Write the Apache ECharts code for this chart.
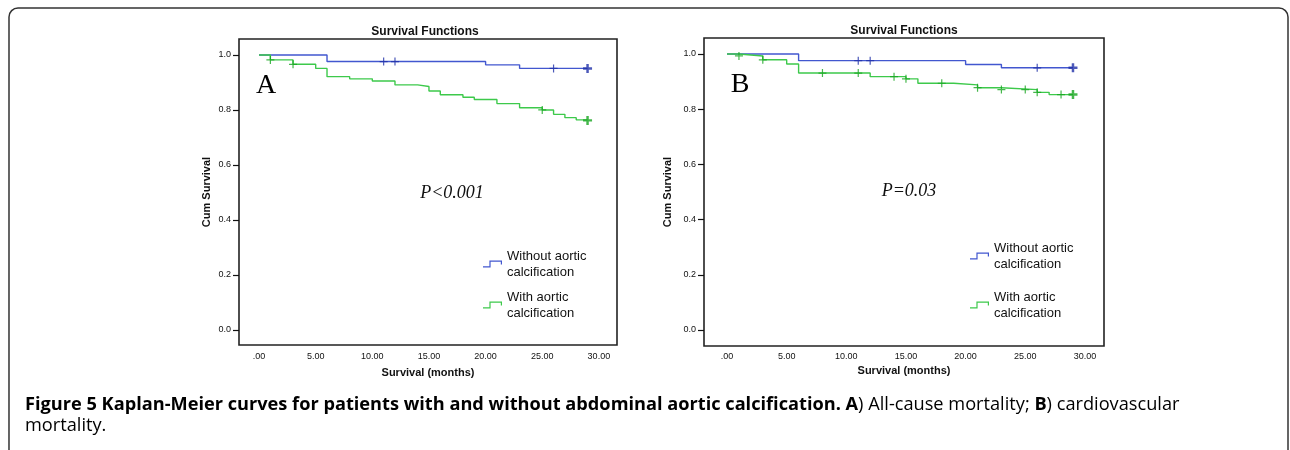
<!DOCTYPE html>
<html>
<head>
<meta charset="utf-8">
<script src="https://cdn.jsdelivr.net/npm/echarts@6/dist/echarts.min.js"></script>
<style>
html, body { margin: 0; padding: 0; background: #fff; }
#main { width: 1290px; height: 450px; }
</style>
</head>
<body>
<div id="main"></div>
<script>
// values: time in months, cumulative survival
var monthTicks = [0, 5, 10, 15, 20, 25, 30];
var survTicks = [0, 0.2, 0.4, 0.6, 0.8, 1.0];
var groupNames = ['Without aortic calcification', 'With aortic calcification'];

// panel A - all-cause mortality
var aNoCalcT = [0, 6, 20, 23, 29];
var aNoCalcS = [1.0, 0.976, 0.964, 0.951, 0.951];
var aNoCalcCens = [11, 12, 26, 29];
var aCalcT = [0, 1, 3, 5, 6, 8, 10, 12, 14, 15, 16, 18, 19, 21, 23, 25, 26, 27, 28, 29];
var aCalcS = [1.0, 0.982, 0.966, 0.951, 0.921, 0.913, 0.905, 0.891, 0.885, 0.869,
              0.855, 0.846, 0.838, 0.823, 0.808, 0.8, 0.784, 0.772, 0.764, 0.762];
var aCalcCens = [1, 3, 25, 29];

// panel B - cardiovascular mortality
var bNoCalcT = [0, 6, 20, 23, 29];
var bNoCalcS = [1.0, 0.976, 0.962, 0.95, 0.95];
var bNoCalcCens = [11, 12, 26, 29];
var bCalcT = [0, 1, 3, 5, 6, 12, 15, 16, 19, 21, 23, 26, 27, 29];
var bCalcS = [1.0, 0.993, 0.979, 0.964, 0.931, 0.918, 0.91, 0.894, 0.888, 0.878, 0.871, 0.861, 0.853, 0.853];
var bCalcCens = [1, 3, 8, 11, 14, 15, 18, 21, 23, 25, 26, 28, 29];

var blue = '#4257cf', blueDark = '#1f2fa8';
var green = '#3dc94b', greenDark = '#17a51f';
var plus = 'path://M3.4,0H4.6V3.4H8V4.6H4.6V8H3.4V4.6H0V3.4H3.4Z';
var plusBold = 'path://M2.9,0H5.1V2.9H8V5.1H5.1V8H2.9V5.1H0V2.9H2.9Z';
var stepIcon = 'path://M0,5.8H6.4V0H19V4H17.8V1.2H7.6V7H0Z';

function steps(t, s) {
    return t.map(function (v, i) { return [v, s[i]]; });
}
// survival level at a censoring time (value of the step curve)
function marks(t, s, cens) {
    return cens.map(function (c) {
        var k = 0;
        for (var i = 0; i < t.length; i++) { if (t[i] <= c) k = i; }
        return [c, s[k]];
    });
}

var font = 'Liberation Sans, Arial, sans-serif';

function xAx(idx, min, max, gap, margin) {
    return {
        type: 'value', gridIndex: idx, min: min, max: max,
        name: 'Survival (months)', nameLocation: 'middle', nameGap: gap,
        nameTextStyle: { fontFamily: font, fontWeight: 'bold', fontSize: 11, color: '#111' },
        axisLine: { show: false, onZero: false },
        axisTick: { show: false },
        splitLine: { show: false },
        axisLabel: {
            customValues: monthTicks, margin: margin,
            fontFamily: font, fontSize: 9, color: '#111',
            formatter: function (v) { return v === 0 ? '.00' : v.toFixed(2); }
        }
    };
}
function yAx(idx, min, max, gap) {
    return {
        type: 'value', gridIndex: idx, min: min, max: max,
        name: 'Cum Survival', nameLocation: 'middle', nameGap: gap,
        nameTextStyle: { fontFamily: font, fontWeight: 'bold', fontSize: 11, color: '#111' },
        axisLine: { show: false, onZero: false },
        axisTick: { show: true, customValues: survTicks, length: 6, lineStyle: { color: '#111', width: 1.2 } },
        splitLine: { show: false },
        axisLabel: {
            customValues: survTicks, margin: 8,
            fontFamily: font, fontSize: 9, color: '#111',
            formatter: function (v) { return v.toFixed(1); }
        }
    };
}
function lineSeries(name, idx, t, s, color) {
    return {
        name: name, type: 'line', xAxisIndex: idx, yAxisIndex: idx,
        step: 'end', showSymbol: false, silent: true,
        lineStyle: { color: color, width: 1.4 }, itemStyle: { color: color },
        data: steps(t, s)
    };
}
function censSeries(idx, t, s, cens, color) {
    var last = t[t.length - 1];
    return {
        type: 'scatter', xAxisIndex: idx, yAxisIndex: idx, silent: true, z: 3,
        symbol: function (v) { return v[0] === last ? plusBold : plus; },
        symbolSize: function (v) { return v[0] === last ? 9 : 8; },
        itemStyle: { color: color },
        data: marks(t, s, cens)
    };
}
function legendFor(left, top, gap) {
    return {
        left: left, top: top, orient: 'vertical', itemGap: gap, padding: 0,
        itemWidth: 19, itemHeight: 7, icon: stepIcon,
        data: groupNames, selectedMode: false,
        formatter: function (n) { return n.replace(' calc', '\ncalc'); },
        textStyle: { fontFamily: font, fontSize: 13, color: '#111', lineHeight: 16 }
    };
}

var capRich = {
    b: { fontFamily: 'Open Sans', fontWeight: 'bold', fontSize: 18.2, color: '#231f20', lineHeight: 21 },
    n: { fontFamily: 'Open Sans', fontSize: 18.2, color: '#444', lineHeight: 21 }
};

var myChart = echarts.init(document.getElementById('main'));
var option = {
    backgroundColor: '#fff',
    animation: false,
    title: [
        { text: 'Survival Functions', left: 420, top: 21, textAlign: 'center',
          textStyle: { fontFamily: font, fontWeight: 'bold', fontSize: 12, color: '#111' } },
        { text: 'Survival Functions', left: 899, top: 20, textAlign: 'center',
          textStyle: { fontFamily: font, fontWeight: 'bold', fontSize: 12, color: '#111' } }
    ],
    grid: [
        { left: 239, top: 39, width: 378, height: 306, show: true, borderColor: '#222', borderWidth: 1.6 },
        { left: 704, top: 38, width: 400, height: 308, show: true, borderColor: '#222', borderWidth: 1.6 }
    ],
    xAxis: [xAx(0, -1.77, 31.6, 22, 7), xAx(1, -1.93, 31.6, 19, 6)],
    yAxis: [yAx(0, -0.055, 1.058, 27), yAx(1, -0.058, 1.058, 31)],
    legend: [legendFor(483, 248, 9), legendFor(970, 240, 17)],
    series: [
        lineSeries(groupNames[0], 0, aNoCalcT, aNoCalcS, blue),
        lineSeries(groupNames[1], 0, aCalcT, aCalcS, green),
        censSeries(0, aNoCalcT, aNoCalcS, aNoCalcCens, blueDark),
        censSeries(0, aCalcT, aCalcS, aCalcCens, greenDark),
        lineSeries(groupNames[0], 1, bNoCalcT, bNoCalcS, blue),
        lineSeries(groupNames[1], 1, bCalcT, bCalcS, green),
        censSeries(1, bNoCalcT, bNoCalcS, bNoCalcCens, blueDark),
        censSeries(1, bCalcT, bCalcS, bCalcCens, greenDark)
    ],
    graphic: [
        { type: 'rect', shape: { x: 9, y: 8, width: 1279, height: 520, r: 9 },
          style: { fill: 'none', stroke: '#333', lineWidth: 1.5 }, silent: true },
        { type: 'text', x: 266, y: 86, style: { text: 'A', font: '28px "Liberation Serif", serif',
          fill: '#000', textAlign: 'center', textVerticalAlign: 'middle' } },
        { type: 'text', x: 740, y: 85, style: { text: 'B', font: '28px "Liberation Serif", serif',
          fill: '#000', textAlign: 'center', textVerticalAlign: 'middle' } },
        { type: 'text', x: 452, y: 193, style: { text: 'P<0.001', font: 'italic 18px "Liberation Serif", serif',
          fill: '#111', textAlign: 'center', textVerticalAlign: 'middle' } },
        { type: 'text', x: 909, y: 191, style: { text: 'P=0.03', font: 'italic 18px "Liberation Serif", serif',
          fill: '#111', textAlign: 'center', textVerticalAlign: 'middle' } },
        { type: 'text', x: 25, y: 394, style: {
            text: '{b|Figure 5 Kaplan-Meier curves for patients with and without abdominal aortic calcification. A}{n|) All-cause mortality; }{b|B}{n|) cardiovascular}\n{n|mortality.}',
            rich: capRich
        } }
    ]
};
myChart.setOption(option);
</script>
</body>
</html>
